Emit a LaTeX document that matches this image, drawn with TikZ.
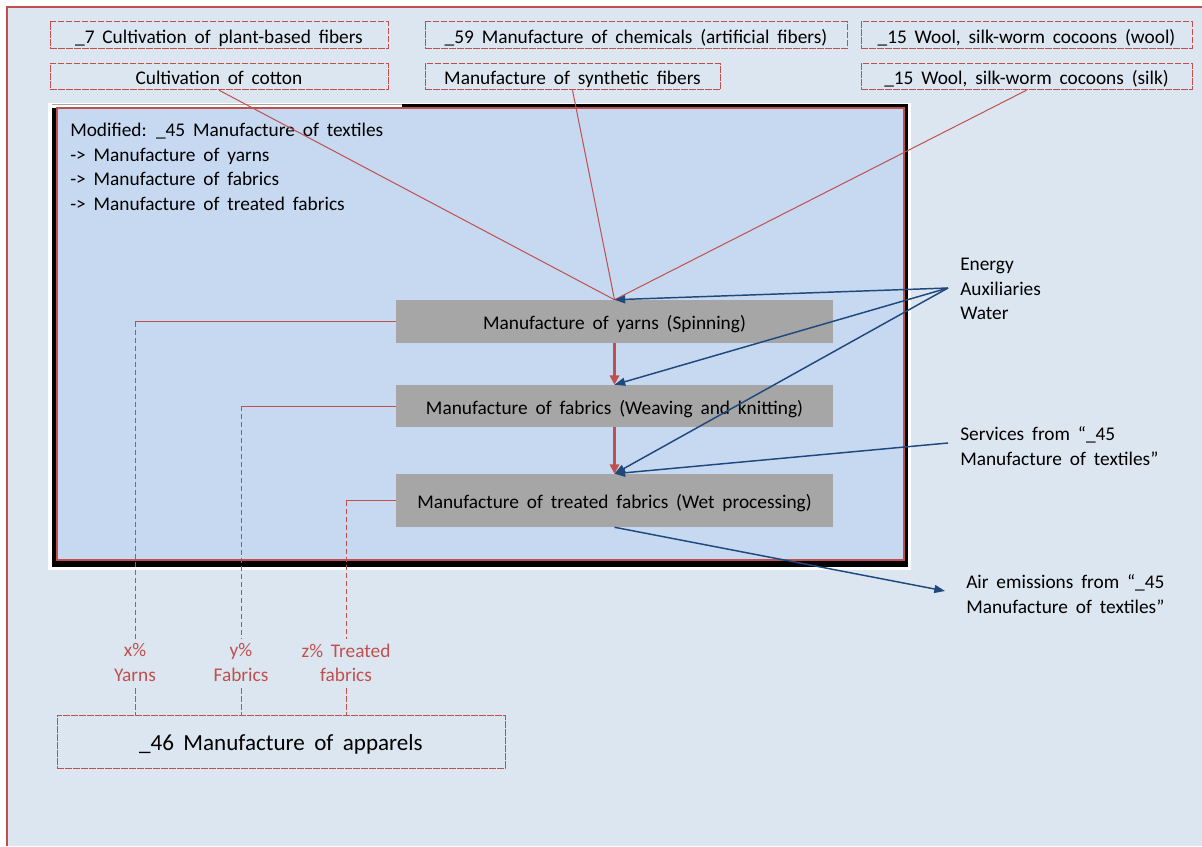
\documentclass[tikz,border=0pt]{standalone}
\usepackage{fontspec}
\setmainfont{Carlito}[WordSpace=1.8]
\usetikzlibrary{arrows.meta}
\definecolor{bgc}{HTML}{DCE6F1}
\definecolor{innerc}{HTML}{C6D9F1}
\definecolor{redc}{HTML}{C0504D}
\definecolor{bluec}{HTML}{1F497D}
\definecolor{grayc}{HTML}{A6A6A6}
\begin{document}
\begin{tikzpicture}[x=0.75pt,y=-0.75pt,
  txt/.style={font=\fontsize{14.5pt}{18.2pt}\selectfont, inner sep=0pt},
  onel/.style={txt, text height=12pt, text depth=0pt},
  srcbox/.style={draw=redc, line width=0.75pt, dash pattern=on 5pt off 1pt, onel, minimum height=19.8pt, minimum width=#1},
  procbox/.style={fill=grayc, onel, minimum width=327.75pt},
  redline/.style={draw=redc, line width=0.75pt},
  reddash/.style={draw=redc, line width=0.75pt, dash pattern=on 4pt off 2pt},
  flowarrow/.style={draw=redc, line width=2pt, -{Triangle[length=7pt,width=7pt]}},
  bluearrow/.style={draw=bluec, line width=1.1pt, -{Triangle[length=8pt,width=6pt]}},
  pct/.style={txt, text=redc, align=center}
]
\useasboundingbox (0,0) rectangle (1202,846);
\fill[white] (0,0) rectangle (1202,846);
\fill[bgc] (7,7) rectangle (1202,846);
\draw[redc, line width=1pt] (7,846) -- (7,7) -- (1202,7);

% main frame
\fill[white] (48,103) rectangle (911,570);
\fill[black] (52,104) rectangle (908,567);
\fill[white] (48,103) rectangle (402,107.5);
\draw[gray!70, line width=0.5pt] (52,104.5) -- (402,104.5);
\fill[innerc] (57,108) rectangle (904,560);
\draw[redc, line width=1pt] (57,108) rectangle (904,560);

\node[txt, anchor=north west, align=left, font=\fontsize{14.5pt}{18.4pt}\selectfont] (mtext) at (70,123)
  {Modified: \_45 Manufacture of textiles\\-> Manufacture of yarns\\-> Manufacture of fabrics\\-> Manufacture of treated fabrics};

% source boxes
\node[srcbox=253.5pt] (plant) at (219,35) {\_7 Cultivation of plant-based fibers};
\node[srcbox=253.5pt] (cotton) at (219,76.5) {Cultivation of cotton};
\node[srcbox=316.5pt] (chem) at (636,35) {\_59 Manufacture of chemicals (artificial fibers)};
\node[srcbox=221.25pt] (synth) at (572.5,76.5) {Manufacture of synthetic fibers};
\node[srcbox=248.25pt] (wool) at (1026.5,35) {\_15 Wool, silk-worm cocoons (wool)};
\node[srcbox=248.25pt] (silk) at (1026.5,76.5) {\_15 Wool, silk-worm cocoons (silk)};

% process boxes
\node[procbox, minimum height=32.25pt] (yarns) at (614.5,321.5) {Manufacture of yarns (Spinning)};
\node[procbox, minimum height=31.5pt] (fabrics) at (614.5,406) {Manufacture of fabrics (Weaving and knitting)};
\node[procbox, minimum height=39.75pt] (treated) at (614.5,500.5) {Manufacture of treated fabrics (Wet processing)};

% inputs into yarns
\draw[redline] (cotton.south) -- (yarns.north);
\draw[redline] (synth.south) -- (yarns.north);
\draw[redline] (silk.south) -- (yarns.north);

% flow arrows
\draw[flowarrow] (yarns.south) -- (fabrics.north);
\draw[flowarrow] (fabrics.south) -- (treated.north);

% right labels
\node[txt, anchor=west, align=left] (inputs) at (960,289) {Energy\\Auxiliaries\\Water};
\coordinate (inpt) at (948,288);
\draw[bluearrow] (inpt) -- (yarns.north);
\draw[bluearrow] (inpt) -- (fabrics.north);
\draw[bluearrow] (inpt) -- (treated.north);

\node[txt, anchor=west, align=left] (serv) at (960,446) {Services from “\_45\\Manufacture of textiles”};
\coordinate (servpt) at (948,443);
\draw[bluearrow] (servpt) -- (treated.north);

\node[txt, anchor=west, align=left] (air) at (966,594) {Air emissions from “\_45\\Manufacture of textiles”};
\coordinate (airpt) at (945,591);
\draw[bluearrow] (treated.south) -- (airpt);

% output labels
\node[pct] (xl) at (135,662.5) {x\%\\Yarns};
\node[pct] (yl) at (241,662.5) {y\%\\Fabrics};
\node[pct] (zl) at (346,662.5) {z\% Treated\\fabrics};

\node[draw=redc, line width=0.75pt, dash pattern=on 5pt off 1pt, minimum width=336pt, minimum height=39.75pt, inner sep=0pt, text height=14pt, text depth=0pt, font=\fontsize{17.3pt}{20pt}\selectfont] (app) at (281,741.5) {\_46 Manufacture of apparels};

\coordinate (xc) at (135,321.5);
\coordinate (yc) at (241,406);
\coordinate (zc) at (346,500.5);
\draw[redline] (yarns.west) -- (xc);
\draw[redline] (fabrics.west) -- (yc);
\draw[redline] (treated.west) -- (zc);
\draw[reddash] (xc) -- ([yshift=3pt]xl.north);
\draw[reddash] (yc) -- ([yshift=3pt]yl.north);
\draw[reddash] (zc) -- ([yshift=3pt]zl.north);
\draw[reddash] ([yshift=-5pt]xl.south) -- (xl.south |- app.north);
\draw[reddash] ([yshift=-5pt]yl.south) -- (yl.south |- app.north);
\draw[reddash] ([yshift=-5pt]zl.south) -- (zl.south |- app.north);
\end{tikzpicture}
\end{document}
